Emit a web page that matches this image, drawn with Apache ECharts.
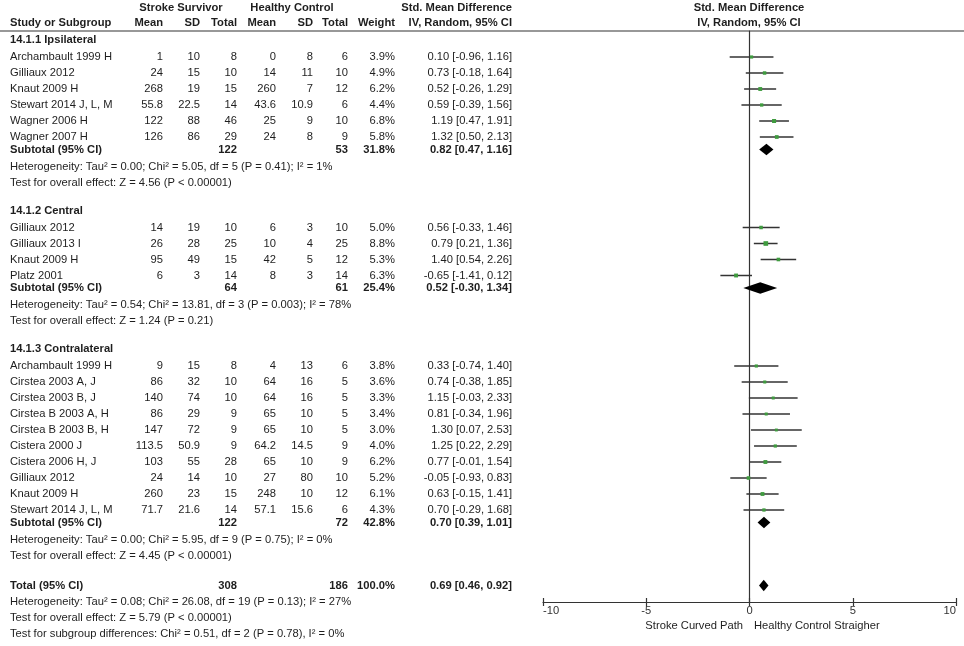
<!DOCTYPE html>
<html>
<head>
<meta charset="utf-8">
<title>Forest plot</title>
<script src="https://cdn.jsdelivr.net/npm/echarts@6/dist/echarts.min.js"></script>
<style>html,body{margin:0;padding:0;background:#fff;}</style>
</head>
<body>
<div id="main" style="width:964px;height:646px;"></div>
<script type="text/javascript">
// ---- data ----
var groupNames = ['14.1.1 Ipsilateral', '14.1.2 Central', '14.1.3 Contralateral'];
var studyGroup = [0, 0, 0, 0, 0, 0, 1, 1, 1, 1, 2, 2, 2, 2, 2, 2, 2, 2, 2, 2];
var studyNames = [
    'Archambault 1999 H', 'Gilliaux 2012', 'Knaut 2009 H', 'Stewart 2014 J, L, M', 'Wagner 2006 H', 'Wagner 2007 H',
    'Gilliaux 2012', 'Gilliaux 2013 I', 'Knaut 2009 H', 'Platz 2001',
    'Archambault 1999 H', 'Cirstea 2003 A, J', 'Cirstea 2003 B, J', 'Cirstea B 2003 A, H', 'Cirstea B 2003 B, H',
    'Cistera 2000 J', 'Cistera 2006 H, J', 'Gilliaux 2012', 'Knaut 2009 H', 'Stewart 2014 J, L, M'
];
var ssMean  = [1, 24, 268, 55.8, 122, 126, 14, 26, 95, 6, 9, 86, 140, 86, 147, 113.5, 103, 24, 260, 71.7];
var ssSd    = [10, 15, 19, 22.5, 88, 86, 19, 28, 49, 3, 15, 32, 74, 29, 72, 50.9, 55, 14, 23, 21.6];
var ssTotal = [8, 10, 15, 14, 46, 29, 10, 25, 15, 14, 8, 10, 10, 9, 9, 9, 28, 10, 15, 14];
var hcMean  = [0, 14, 260, 43.6, 25, 24, 6, 10, 42, 8, 4, 64, 64, 65, 65, 64.2, 65, 27, 248, 57.1];
var hcSd    = [8, 11, 7, 10.9, 9, 8, 3, 4, 5, 3, 13, 16, 16, 10, 10, 14.5, 10, 80, 10, 15.6];
var hcTotal = [6, 10, 12, 6, 10, 9, 10, 25, 12, 14, 6, 5, 5, 5, 5, 9, 9, 10, 12, 6];
var weight  = [3.9, 4.9, 6.2, 4.4, 6.8, 5.8, 5.0, 8.8, 5.3, 6.3, 3.8, 3.6, 3.3, 3.4, 3.0, 4.0, 6.2, 5.2, 6.1, 4.3];
var smd     = [0.10, 0.73, 0.52, 0.59, 1.19, 1.32, 0.56, 0.79, 1.40, -0.65, 0.33, 0.74, 1.15, 0.81, 1.30, 1.25, 0.77, -0.05, 0.63, 0.70];
var ciLow   = [-0.96, -0.18, -0.26, -0.39, 0.47, 0.50, -0.33, 0.21, 0.54, -1.41, -0.74, -0.38, -0.03, -0.34, 0.07, 0.22, -0.01, -0.93, -0.15, -0.29];
var ciHigh  = [1.16, 1.64, 1.29, 1.56, 1.91, 2.13, 1.46, 1.36, 2.26, 0.12, 1.40, 1.85, 2.33, 1.96, 2.53, 2.29, 1.54, 0.83, 1.41, 1.68];

// subgroup totals
var subSsTotal = [122, 64, 122];
var subHcTotal = [53, 61, 72];
var subWeight  = [31.8, 25.4, 42.8];
var subSmd     = [0.82, 0.52, 0.70];
var subLow     = [0.47, -0.30, 0.39];
var subHigh    = [1.16, 1.34, 1.01];
var subTau2    = ['0.00', '0.54', '0.00'];
var subChi2    = ['5.05', '13.81', '5.95'];
var subDf      = [5, 3, 9];
var subHetP    = ['= 0.41', '= 0.003', '= 0.75'];
var subI2      = [1, 78, 0];
var subZ       = ['4.56', '1.24', '4.45'];
var subZP      = ['< 0.00001', '= 0.21', '< 0.00001'];

// overall
var totalN      = [308, 186];
var totalWeight = 100.0;
var totalEffect = [0.69, 0.46, 0.92];
var totalHet    = ['0.08', '26.08', 19, '= 0.13', 27];
var totalTest   = ['5.79', '< 0.00001'];
var subgroupDiff = ['0.51', 2, '= 0.78', 0];

var axisTicks = [-10, -5, 0, 5, 10];
var favourLeft = 'Stroke Curved Path';
var favourRight = 'Healthy Control Straigher';

// ---- layout / style ----
var FONT = '"Liberation Sans", Arial, sans-serif';
var FS = 11.2;
var TXT = '#1e1e1e';
var COL = {name: 10, ssMean: 163, ssSd: 200, ssTotal: 237, hcMean: 276, hcSd: 313, hcTotal: 348, weight: 395, ci: 512};
var SP = {first: 40, headStudy: 17, step: 16, studySub: 12.5, subHet: 17, het: 16, group: 28, total: 30};
var PLOT_TOP = 31, AXIS_Y = 602, W = 964, H = 646;

function ci(e, l, h) { return e.toFixed(2) + ' [' + l.toFixed(2) + ', ' + h.toFixed(2) + ']'; }
function c(text, col, bold, align) { return {text: String(text), x: COL[col], bold: !!bold, align: align || 'right'}; }
function hetText(t, ch, df, p, i2) {
    return 'Heterogeneity: Tau\u00b2 = ' + t + '; Chi\u00b2 = ' + ch + ', df = ' + df + ' (P ' + p + '); I\u00b2 = ' + i2 + '%';
}
function testText(z, p) { return 'Test for overall effect: Z = ' + z + ' (P ' + p + ')'; }

// walk the table rows
var lines = [], studyPts = [], diamonds = [];
var y = SP.first;
groupNames.forEach(function (g, gi) {
    if (gi > 0) y += SP.group;
    lines.push({y: y, cells: [c(g, 'name', true, 'left')]});
    y += SP.headStudy;
    var first = true;
    studyNames.forEach(function (n, i) {
        if (studyGroup[i] !== gi) return;
        if (!first) y += SP.step;
        first = false;
        lines.push({y: y, cells: [
            c(n, 'name', false, 'left'), c(ssMean[i], 'ssMean'), c(ssSd[i], 'ssSd'), c(ssTotal[i], 'ssTotal'),
            c(hcMean[i], 'hcMean'), c(hcSd[i], 'hcSd'), c(hcTotal[i], 'hcTotal'),
            c(weight[i].toFixed(1) + '%', 'weight'), c(ci(smd[i], ciLow[i], ciHigh[i]), 'ci')
        ]});
        studyPts.push([smd[i], y, ciLow[i], ciHigh[i], weight[i]]);
    });
    y += SP.studySub;
    lines.push({y: y, cells: [
        c('Subtotal (95% CI)', 'name', true, 'left'), c(subSsTotal[gi], 'ssTotal', true), c(subHcTotal[gi], 'hcTotal', true),
        c(subWeight[gi].toFixed(1) + '%', 'weight', true), c(ci(subSmd[gi], subLow[gi], subHigh[gi]), 'ci', true)
    ]});
    diamonds.push([subSmd[gi], y, subLow[gi], subHigh[gi]]);
    y += SP.subHet;
    lines.push({y: y, cells: [c(hetText(subTau2[gi], subChi2[gi], subDf[gi], subHetP[gi], subI2[gi]), 'name', false, 'left')]});
    y += SP.het;
    lines.push({y: y, cells: [c(testText(subZ[gi], subZP[gi]), 'name', false, 'left')]});
});
y += SP.total;
lines.push({y: y, cells: [
    c('Total (95% CI)', 'name', true, 'left'), c(totalN[0], 'ssTotal', true), c(totalN[1], 'hcTotal', true),
    c(totalWeight.toFixed(1) + '%', 'weight', true), c(ci(totalEffect[0], totalEffect[1], totalEffect[2]), 'ci', true)
]});
diamonds.push([totalEffect[0], y, totalEffect[1], totalEffect[2]]);
y += SP.het;
lines.push({y: y, cells: [c(hetText(totalHet[0], totalHet[1], totalHet[2], totalHet[3], totalHet[4]), 'name', false, 'left')]});
y += SP.het;
lines.push({y: y, cells: [c(testText(totalTest[0], totalTest[1]), 'name', false, 'left')]});
y += SP.het;
lines.push({y: y, cells: [c('Test for subgroup differences: Chi\u00b2 = ' + subgroupDiff[0] + ', df = ' + subgroupDiff[1] +
    ' (P ' + subgroupDiff[2] + '), I\u00b2 = ' + subgroupDiff[3] + '%', 'name', false, 'left')]});

function textEl(x, y, text, bold, align) {
    return {
        type: 'text', x: x, y: y,
        style: {
            text: text, fill: TXT, font: (bold ? 'bold ' : '') + FS + 'px ' + FONT,
            align: align, textAlign: align, verticalAlign: 'middle', textVerticalAlign: 'middle'
        }
    };
}

var myChart = echarts.init(document.getElementById('main'));

var option = {
    animation: false,
    backgroundColor: '#fff',
    grid: [
        {left: 0, top: 0, width: 530, height: H, outerBoundsMode: 'none'},
        {left: 543, right: W - 956, top: PLOT_TOP, bottom: H - AXIS_Y, outerBoundsMode: 'none'}
    ],
    xAxis: [
        {gridIndex: 0, type: 'value', min: 0, max: 530, show: false},
        {
            gridIndex: 1, type: 'value', position: 'bottom', min: axisTicks[0], max: axisTicks[axisTicks.length - 1], interval: 5,
            axisLine: {onZero: false, lineStyle: {color: '#333', width: 1.2}},
            axisTick: {inside: false, length: 4, lineStyle: {color: '#333', width: 1.2}},
            axisLabel: {margin: 3, color: '#333', fontSize: FS, fontFamily: FONT, alignMinLabel: 'left', alignMaxLabel: 'right'},
            splitLine: {show: false}
        },
        {
            gridIndex: 1, type: 'value', position: 'bottom', min: axisTicks[0], max: axisTicks[axisTicks.length - 1], interval: 5,
            axisLine: {show: false, onZero: false},
            axisTick: {inside: true, length: 4, lineStyle: {color: '#333', width: 1.2}},
            axisLabel: {show: false}, splitLine: {show: false}
        }
    ],
    yAxis: [
        {gridIndex: 0, type: 'value', min: 0, max: H, inverse: true, show: false},
        {
            gridIndex: 1, type: 'value', min: PLOT_TOP, max: AXIS_Y, inverse: true,
            axisLine: {show: true, onZero: true, onZeroAxisIndex: 1, lineStyle: {color: '#333', width: 1.2}},
            axisTick: {show: false}, axisLabel: {show: false}, splitLine: {show: false}
        }
    ],
    graphic: [
        {type: 'line', shape: {x1: 0, y1: PLOT_TOP, x2: W, y2: PLOT_TOP}, style: {stroke: '#333', lineWidth: 1.2}, z: 10},
        textEl(181, 8, 'Stroke Survivor', true, 'center'),
        textEl(292, 8, 'Healthy Control', true, 'center'),
        textEl(COL.ci, 8, 'Std. Mean Difference', true, 'right'),
        textEl(749, 8, 'Std. Mean Difference', true, 'center'),
        textEl(COL.name, 23, 'Study or Subgroup', true, 'left'),
        textEl(COL.ssMean, 23, 'Mean', true, 'right'),
        textEl(COL.ssSd, 23, 'SD', true, 'right'),
        textEl(COL.ssTotal, 23, 'Total', true, 'right'),
        textEl(COL.hcMean, 23, 'Mean', true, 'right'),
        textEl(COL.hcSd, 23, 'SD', true, 'right'),
        textEl(COL.hcTotal, 23, 'Total', true, 'right'),
        textEl(COL.weight, 23, 'Weight', true, 'right'),
        textEl(COL.ci, 23, 'IV, Random, 95% CI', true, 'right'),
        textEl(749, 23, 'IV, Random, 95% CI', true, 'center'),
        textEl(743, 626, favourLeft, false, 'right'),
        textEl(754, 626, favourRight, false, 'left')
    ],
    series: [
        {
            // table text
            type: 'custom', xAxisIndex: 0, yAxisIndex: 0, silent: true,
            data: lines.map(function (l) { return [0, l.y]; }),
            encode: {x: 0, y: 1},
            renderItem: function (params, api) {
                var line = lines[params.dataIndex];
                var py = api.coord([0, api.value(1)])[1];
                return {
                    type: 'group',
                    children: line.cells.map(function (cell) {
                        return textEl(api.coord([cell.x, api.value(1)])[0], py, cell.text, cell.bold, cell.align);
                    })
                };
            }
        },
        {
            // study CIs and point estimates
            type: 'custom', xAxisIndex: 1, yAxisIndex: 1, silent: true,
            data: studyPts,
            encode: {x: [0, 2, 3], y: 1},
            renderItem: function (params, api) {
                var yy = api.value(1);
                var a = api.coord([api.value(2), yy]);
                var b = api.coord([api.value(3), yy]);
                var m = api.coord([api.value(0), yy]);
                var s = 2 + api.value(4) * 0.3;
                return {
                    type: 'group',
                    children: [
                        {type: 'line', shape: {x1: a[0], y1: a[1], x2: b[0], y2: b[1]}, style: {stroke: '#333', lineWidth: 1.5}},
                        {type: 'rect', shape: {x: m[0] - s / 2, y: m[1] - s / 2, width: s, height: s}, style: {fill: '#3f9b3f'}}
                    ]
                };
            }
        },
        {
            // pooled diamonds
            type: 'custom', xAxisIndex: 1, yAxisIndex: 1, silent: true,
            data: diamonds,
            encode: {x: [0, 2, 3], y: 1},
            renderItem: function (params, api) {
                var yy = api.value(1);
                var a = api.coord([api.value(2), yy]);
                var b = api.coord([api.value(3), yy]);
                var m = api.coord([api.value(0), yy]);
                var h = 5.8;
                return {
                    type: 'polygon',
                    shape: {points: [[a[0], a[1]], [m[0], m[1] - h], [b[0], b[1]], [m[0], m[1] + h]]},
                    style: {fill: '#000'}
                };
            }
        }
    ]
};

myChart.setOption(option);
</script>
</body>
</html>
